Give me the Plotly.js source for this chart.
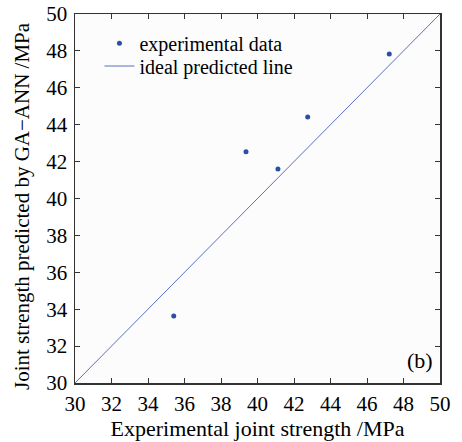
<!DOCTYPE html>
<html>
<head>
<meta charset="utf-8">
<script src="https://cdn.plot.ly/plotly-3.0.1.min.js"></script>
<style>html,body{margin:0;padding:0;background:#fff;}#chart{width:462px;height:442px;}</style>
</head>
<body>
<div id="chart"></div>
<script>
// Experimental vs predicted joint strength (MPa)
const expX = [35.41, 39.37, 41.12, 42.75, 47.22];
const expY = [33.63, 42.54, 41.60, 44.42, 47.83];
const idealX = [30, 50];
const idealY = [30, 50];
const tickVals = [30, 32, 34, 36, 38, 40, 42, 44, 46, 48, 50];
const tickText = tickVals.map(String);

const FONT = 'Liberation Serif';

const traces = [
  {
    x: expX, y: expY, type: 'scatter', mode: 'markers',
    name: 'experimental data', legend: 'legend',
    marker: {color: '#2b4fa3', size: 5}
  },
  {
    x: idealX, y: idealY, type: 'scatter', mode: 'lines',
    name: 'ideal predicted line', legend: 'legend2',
    line: {color: '#5a70c2', width: 1}
  }
];

const axisCommon = {
  range: [30, 50],
  tickvals: tickVals,
  ticktext: tickText,
  ticks: 'inside',
  ticklen: 5,
  tickwidth: 1,
  tickcolor: '#333',
  showline: true,
  linecolor: '#333',
  linewidth: 1.5,
  mirror: 'ticks',
  showgrid: false,
  zeroline: false,
  tickfont: {family: FONT, size: 21, color: '#000'}
};

const legendCommon = {
  xanchor: 'left', yanchor: 'middle',
  bgcolor: 'rgba(0,0,0,0)', borderwidth: 0,
  font: {family: FONT, size: 20, color: '#000'}
};

const layout = {
  width: 462, height: 442,
  margin: {l: 75, r: 22, t: 14, b: 59},
  paper_bgcolor: '#ffffff',
  plot_bgcolor: '#fcfcfd',
  showlegend: true,
  legend: Object.assign({}, legendCommon, {x: 0.067, y: 0.921}),
  legend2: Object.assign({}, legendCommon, {x: 0.067, y: 0.859}),
  xaxis: Object.assign({}, axisCommon, {
    ticklabelstandoff: 1,
    title: {text: 'Experimental joint strength /MPa', font: {family: FONT, size: 22, color: '#000'}, standoff: 5}
  }),
  yaxis: Object.assign({}, axisCommon, {
    ticklabelstandoff: 2
  }),
  annotations: [
    {
      text: '(b)', xref: 'paper', yref: 'paper', x: 0.986, y: 0.06,
      xanchor: 'right', yanchor: 'middle', showarrow: false,
      font: {family: FONT, size: 22, color: '#000'}
    },
    {
      text: 'Joint strength predicted by GA\u2212ANN /MPa',
      xref: 'paper', yref: 'paper', x: -0.145, y: 0.48,
      xanchor: 'center', yanchor: 'middle', textangle: -90, showarrow: false,
      font: {family: FONT, size: 21, color: '#000'}
    }
  ]
};

Plotly.newPlot('chart', traces, layout, {displayModeBar: false, staticPlot: true});
</script>
</body>
</html>
